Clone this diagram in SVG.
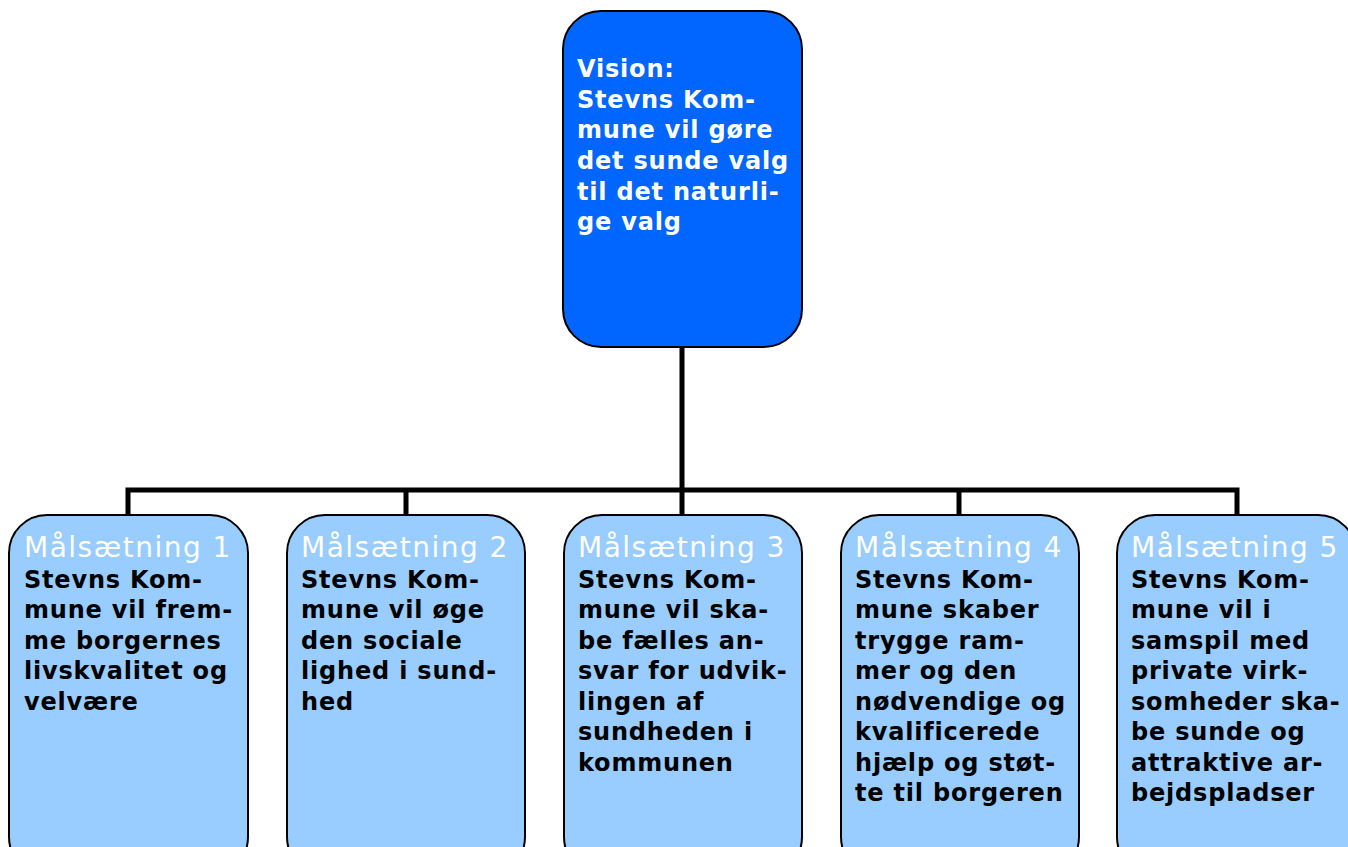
<svg xmlns="http://www.w3.org/2000/svg" width="1348" height="847" viewBox="0 0 1348 847">
<style>
.top{fill:#0066FF;stroke:#000;stroke-width:2}
.goal{fill:#99CCFF;stroke:#000;stroke-width:2}
.vt{font-family:"DejaVu Sans",Verdana,sans-serif;font-weight:bold;font-size:24px;letter-spacing:0.8px;fill:#fff}
.hd{font-family:"DejaVu Sans",Verdana,sans-serif;font-size:28px;letter-spacing:1.5px;fill:#fff}
.bt{font-family:"DejaVu Sans",Verdana,sans-serif;font-weight:bold;font-size:24px;letter-spacing:0.8px;fill:#000}
.con{fill:none;stroke:#000;stroke-width:5}
</style>
<rect width="1348" height="847" fill="#fff"/>
<g id="connectors">
<path class="con" d="M682 347V490M128 516V490H1237V516M406 490V516M682 490V516M959 490V516"/>
</g>
<g id="vision">
<rect class="top" x="563" y="11" width="239" height="336" rx="38"/>
<text class="vt" x="577"><tspan x="577" y="77">Vision:</tspan><tspan x="577" y="108">Stevns Kom-</tspan><tspan x="577" y="138">mune vil gøre</tspan><tspan x="577" y="169">det sunde valg</tspan><tspan x="577" y="200">til det naturli-</tspan><tspan x="577" y="230">ge valg</tspan></text>
</g>
<g id="goal1">
<rect class="goal" x="9" y="515" width="239" height="360" rx="38"/>
<text class="hd" x="24" y="557">Målsætning 1</text>
<text class="bt"><tspan x="24" y="588">Stevns Kom-</tspan><tspan x="24" y="618">mune vil frem-</tspan><tspan x="24" y="649">me borgernes</tspan><tspan x="24" y="679">livskvalitet og</tspan><tspan x="24" y="710">velvære</tspan></text>
</g>
<g id="goal2">
<rect class="goal" x="287" y="515" width="238" height="360" rx="38"/>
<text class="hd" x="301" y="557">Målsætning 2</text>
<text class="bt"><tspan x="301" y="588">Stevns Kom-</tspan><tspan x="301" y="618">mune vil øge</tspan><tspan x="301" y="649">den sociale</tspan><tspan x="301" y="679">lighed i sund-</tspan><tspan x="301" y="710">hed</tspan></text>
</g>
<g id="goal3">
<rect class="goal" x="564" y="515" width="238" height="360" rx="38"/>
<text class="hd" x="578" y="557">Målsætning 3</text>
<text class="bt"><tspan x="578" y="588">Stevns Kom-</tspan><tspan x="578" y="618">mune vil ska-</tspan><tspan x="578" y="649">be fælles an-</tspan><tspan x="578" y="679">svar for udvik-</tspan><tspan x="578" y="710">lingen af</tspan><tspan x="578" y="740">sundheden i</tspan><tspan x="578" y="771">kommunen</tspan></text>
</g>
<g id="goal4">
<rect class="goal" x="841" y="515" width="238" height="360" rx="38"/>
<text class="hd" x="855" y="557">Målsætning 4</text>
<text class="bt"><tspan x="855" y="588">Stevns Kom-</tspan><tspan x="855" y="618">mune skaber</tspan><tspan x="855" y="649">trygge ram-</tspan><tspan x="855" y="679">mer og den</tspan><tspan x="855" y="710">nødvendige og</tspan><tspan x="855" y="740">kvalificerede</tspan><tspan x="855" y="771">hjælp og støt-</tspan><tspan x="855" y="801">te til borgeren</tspan></text>
</g>
<g id="goal5">
<rect class="goal" x="1117" y="515" width="239" height="360" rx="38"/>
<text class="hd" x="1131" y="557">Målsætning 5</text>
<text class="bt"><tspan x="1131" y="588">Stevns Kom-</tspan><tspan x="1131" y="618">mune vil i</tspan><tspan x="1131" y="649">samspil med</tspan><tspan x="1131" y="679">private virk-</tspan><tspan x="1131" y="710">somheder ska-</tspan><tspan x="1131" y="740">be sunde og</tspan><tspan x="1131" y="771">attraktive ar-</tspan><tspan x="1131" y="801">bejdspladser</tspan></text>
</g>
</svg>
